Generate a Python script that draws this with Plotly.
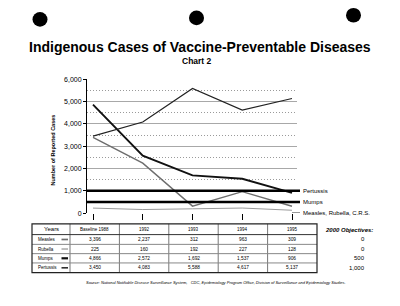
import plotly.graph_objects as go

# ---------------- data ----------------
years = ["Baseline 1988", "1992", "1993", "1994", "1995"]
series_names = ["Measles", "Rubella", "Mumps", "Pertussis"]
measles = [3396, 2237, 312, 963, 309]
rubella = [225, 160, 192, 227, 128]
mumps = [4866, 2572, 1692, 1537, 906]
pertussis = [3450, 4083, 5588, 4617, 5137]
objective_labels = ["Pertussis", "Mumps", "Measles, Rubella, C.R.S."]
objective_values = [1000, 500, 0]
table_objectives = ["0", "0", "500", "1,000"]
y_ticks = [0, 1000, 2000, 3000, 4000, 5000, 6000]

series_values = [measles, rubella, mumps, pertussis]
series_styles = [
    dict(color="#6e6e6e", width=1.4),
    dict(color="#9a9a9a", width=1.0),
    dict(color="#111111", width=1.9),
    dict(color="#222222", width=1.2),
]

W, H = 400, 306
FONT = "Liberation Sans, Arial, Helvetica, sans-serif"


def px(x):
    return x / W


def py(y):
    return 1 - y / H


fig = go.Figure()
for name, vals, st in zip(series_names, series_values, series_styles):
    fig.add_trace(go.Scatter(x=years, y=vals, mode="lines", name=name,
                             line=st, cliponaxis=False, showlegend=False,
                             hoverinfo="skip"))

shapes = []
annotations = []

# objective lines with labels
for lab, val in zip(objective_labels, objective_values):
    x0 = px(87) if val > 0 else px(292)
    shapes.append(dict(type="line", xref="paper", yref="y", x0=x0, x1=px(300),
                       y0=val, y1=val,
                       line=dict(color="black", width=2.4 if val > 0 else 1)))
    annotations.append(dict(xref="paper", yref="y", x=px(301), y=val, text=lab,
                            showarrow=False, xanchor="left", yanchor="middle",
                            font=dict(size=6, color="black", family=FONT)))

# hole punches
for cx, cy in [(40, 15.8), (196.5, 14.2), (353.5, 11.5)]:
    r = 7.5
    shapes.append(dict(type="circle", xref="paper", yref="paper",
                       x0=px(cx - r), x1=px(cx + r), y0=py(cy + r), y1=py(cy - r),
                       fillcolor="black", line=dict(color="black", width=0)))

# titles
annotations.append(dict(xref="paper", yref="paper", x=0.5, y=py(44),
                        text="<b>Indigenous Cases of Vaccine-Preventable Diseases</b>",
                        showarrow=False, xanchor="center", yanchor="middle",
                        font=dict(size=14, color="black", family=FONT)))
annotations.append(dict(xref="paper", yref="paper", x=px(197), y=py(58),
                        text="<b>Chart 2</b>", showarrow=False,
                        xanchor="center", yanchor="middle",
                        font=dict(size=8.5, color="black", family=FONT)))
annotations.append(dict(xref="paper", yref="paper", x=px(53), y=py(150),
                        text="<b>Number of Reported Cases</b>", showarrow=False,
                        textangle=-90, xanchor="center", yanchor="middle",
                        font=dict(size=5.5, color="black", family=FONT)))

# ---------------- table ----------------
col_edges = [32, 70, 119.4, 168.8, 218.2, 267.6, 317]
row_edges = [225, 236, 246, 255.5, 265, 275]

# inner lines
for x in col_edges[1:-1]:
    shapes.append(dict(type="line", xref="paper", yref="paper",
                       x0=px(x), x1=px(x), y0=py(row_edges[0]), y1=py(row_edges[-1]),
                       line=dict(color="#777777", width=1)))
for i, y in enumerate(row_edges[1:-1]):
    shapes.append(dict(type="line", xref="paper", yref="paper",
                       x0=px(col_edges[0]), x1=px(col_edges[-1]), y0=py(y), y1=py(y),
                       line=dict(color="#333333" if i == 0 else "#888888", width=1)))
# outer border
shapes.append(dict(type="rect", xref="paper", yref="paper",
                   x0=px(col_edges[0]), x1=px(col_edges[-1]),
                   y0=py(row_edges[-1]), y1=py(row_edges[0]),
                   line=dict(color="#222222", width=1.2)))

# header
hy = (row_edges[0] + row_edges[1]) / 2
annotations.append(dict(xref="paper", yref="paper",
                        x=px((col_edges[0] + col_edges[1]) / 2), y=py(hy),
                        text="Years", showarrow=False, xanchor="center", yanchor="middle",
                        font=dict(size=6, color="black", family=FONT)))
for j, yr in enumerate(years):
    cx = (col_edges[j + 1] + col_edges[j + 2]) / 2
    annotations.append(dict(xref="paper", yref="paper", x=px(cx), y=py(hy),
                            text=yr, showarrow=False, xanchor="center", yanchor="middle",
                            font=dict(size=4.5, color="black", family=FONT)))

for i, (name, vals, st) in enumerate(zip(series_names, series_values, series_styles)):
    ry = (row_edges[i + 1] + row_edges[i + 2]) / 2
    annotations.append(dict(xref="paper", yref="paper", x=px(35.5), y=py(ry),
                            text=name, showarrow=False, xanchor="left", yanchor="middle",
                            font=dict(size=4.5, color="black", family=FONT)))
    shapes.append(dict(type="line", xref="paper", yref="paper",
                       x0=px(61.5), x1=px(68), y0=py(ry), y1=py(ry),
                       line=dict(color=st["color"], width=st["width"] + 0.3)))
    for j, v in enumerate(vals):
        cx = (col_edges[j + 1] + col_edges[j + 2]) / 2
        annotations.append(dict(xref="paper", yref="paper", x=px(cx), y=py(ry),
                                text=f"{v:,}", showarrow=False,
                                xanchor="center", yanchor="middle",
                                font=dict(size=4.8, color="black", family=FONT)))
    annotations.append(dict(xref="paper", yref="paper", x=px(366.5), y=py(ry),
                            text=table_objectives[i], showarrow=False,
                            xanchor="right", yanchor="middle",
                            font=dict(size=6, color="black", family=FONT)))

annotations.append(dict(xref="paper", yref="paper", x=px(323), y=py(231),
                        text="<b><i>2000 Objectives:</i></b>", showarrow=False,
                        xanchor="left", yanchor="middle",
                        font=dict(size=6, color="black", family=FONT)))

annotations.append(dict(xref="paper", yref="paper", x=px(216), y=py(285),
                        text="<i>Source: National Notifiable Disease Surveillance System,   "
                             "CDC, Epidemiology Program Office, Division of Surveillance "
                             "and Epidemiology Studies.</i>",
                        showarrow=False, xanchor="center", yanchor="middle",
                        font=dict(size=4, color="black", family=FONT)))

fig.update_layout(
    width=W, height=H,
    margin=dict(l=0, r=0, t=0, b=0),
    paper_bgcolor="white", plot_bgcolor="white",
    showlegend=False,
    shapes=shapes, annotations=annotations,
    xaxis=dict(domain=[px(87), px(297)], type="category",
               range=[-0.1206, 4.1005], showticklabels=False,
               ticks="outside", ticklen=6, tickcolor="black", tickwidth=1,
               showgrid=False, showline=False, zeroline=False, fixedrange=True),
    yaxis=dict(domain=[py(214), py(77)], range=[0, 6000],
               tickvals=y_ticks, tickformat=",d",
               ticks="outside", ticklen=3, tickcolor="black",
               tickfont=dict(size=7, color="black", family=FONT),
               showline=True, linecolor="black", linewidth=1,
               showgrid=True, gridcolor="#a8a8a8", gridwidth=1,
               zeroline=True, zerolinecolor="rgba(0,0,0,0)",
               minor=dict(dtick=500, tick0=0, showgrid=True, griddash="1px,2px",
                          gridcolor="#9a9a9a", gridwidth=1),
               fixedrange=True),
)

fig.write_html("out.html")
